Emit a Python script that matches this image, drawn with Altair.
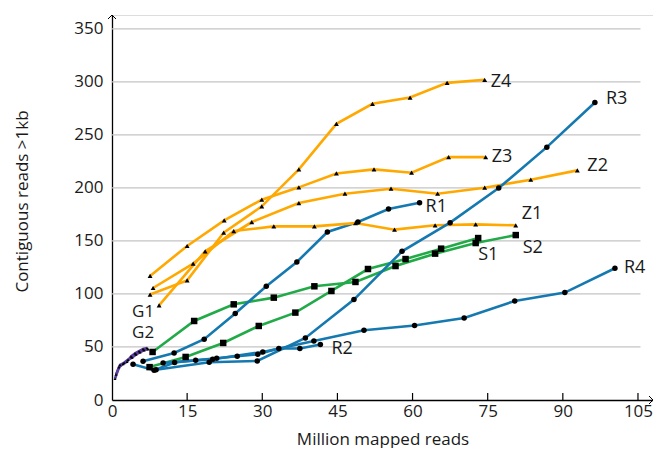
import altair as alt
import pandas as pd

# ---------------- data ----------------
z1_x = [8.2, 16.2, 24.3, 32.3, 40.4, 48.6, 56.4, 64.5, 72.6, 80.6]
z1_y = [105.6, 128.6, 159.3, 163.7, 163.7, 166.8, 160.6, 164.7, 165.6, 164.7]
z2_x = [9.4, 18.6, 27.9, 37.3, 46.5, 55.7, 65.0, 74.4, 83.6, 92.9]
z2_y = [89.3, 140.2, 167.8, 185.7, 194.5, 199.2, 194.5, 200.2, 207.7, 216.5]
z3_x = [7.6, 15.0, 22.4, 29.9, 37.3, 44.8, 52.3, 59.8, 67.2, 74.6]
z3_y = [117.0, 145.2, 169.4, 188.9, 200.5, 213.6, 217.4, 214.3, 229.0, 229.0]
z4_x = [7.6, 15.0, 22.3, 29.9, 37.3, 44.8, 52.0, 59.5, 66.9, 74.4]
z4_y = [99.4, 112.8, 157.8, 182.6, 217.4, 260.4, 279.3, 285.2, 299.0, 301.9]

r1_x = [6.2, 12.4, 18.4, 24.6, 30.8, 36.9, 43.0, 49.1, 55.2, 61.4]
r1_y = [36.5, 44.4, 57.3, 81.5, 107.2, 130.1, 158.4, 167.8, 180.0, 186.0]
r2_x = [4.2, 8.4, 12.5, 16.7, 20.9, 25.0, 29.1, 33.3, 37.5, 41.6]
r2_y = [33.6, 28.1, 35.3, 37.5, 39.4, 41.3, 43.1, 48.5, 48.5, 52.3]
r3_x = [8.8, 19.4, 29.0, 38.6, 48.3, 57.9, 67.5, 77.2, 86.8, 96.4]
r3_y = [28.5, 35.6, 36.8, 58.5, 94.7, 140.2, 167.2, 199.8, 238.4, 280.5]
r4_x = [10.2, 20.1, 30.1, 40.3, 50.3, 60.4, 70.3, 80.4, 90.4, 100.4]
r4_y = [35.0, 38.5, 45.3, 55.7, 65.7, 70.2, 77.3, 93.4, 101.3, 124.2]

s1_x = [7.5, 14.7, 22.2, 29.3, 36.6, 43.8, 51.1, 58.6, 65.7, 73.1]
s1_y = [31.0, 40.6, 53.8, 69.8, 82.4, 102.8, 123.5, 132.9, 142.7, 152.7]
s2_x = [8.1, 16.4, 24.3, 32.3, 40.4, 48.6, 56.6, 64.5, 72.6, 80.6]
s2_y = [45.3, 74.5, 90.2, 96.5, 107.2, 111.3, 126.3, 138.0, 148.0, 155.5]

g1_x = [0.6, 1.4, 2.2, 3.0, 3.8, 4.6, 5.4, 6.2, 7.0]
g1_y = [20.0, 31.0, 34.0, 36.0, 41.0, 44.0, 46.0, 48.0, 49.0]
g2_x = [0.8, 1.6, 2.4, 3.2, 4.0, 4.8, 5.6, 6.4, 7.2]
g2_y = [24.0, 33.0, 35.0, 38.0, 40.0, 43.0, 45.0, 47.0, 48.0]

x_ticks = [0, 15, 30, 45, 60, 75, 90, 105]
y_ticks = [0, 50, 100, 150, 200, 250, 300, 350]

series = [
    ("S1", s1_x, s1_y, "S"), ("S2", s2_x, s2_y, "S"),
    ("R1", r1_x, r1_y, "R"), ("R2", r2_x, r2_y, "R"),
    ("R4", r4_x, r4_y, "R"),
    ("Z1", z1_x, z1_y, "Z"), ("Z2", z2_x, z2_y, "Z"),
    ("Z3", z3_x, z3_y, "Z"), ("Z4", z4_x, z4_y, "Z"),
    ("R3", r3_x, r3_y, "R"),
    ("G1", g1_x, g1_y, "G"), ("G2", g2_x, g2_y, "G"),
]
group_colors = {"Z": "#FFA800", "R": "#1579B0", "S": "#22AA48", "G": "#5A3FA0"}

rows = []
for name, xs, ys, grp in series:
    for i, (xv, yv) in enumerate(zip(xs, ys)):
        rows.append({"series": name, "group": grp, "idx": i, "x": xv, "y": yv})
df = pd.DataFrame(rows)

# label placement (pixel offsets from each series' last point, font size)
label_style = {
    "Z4": (6, 2, "left", 18), "R3": (11, -4, "left", 18), "Z3": (6, 0, "left", 18),
    "Z2": (10, -4, "left", 18), "R1": (6, 4, "left", 18), "Z1": (6, -11, "left", 18),
    "S1": (0, 17, "left", 18), "S2": (7, 13, "left", 18), "R4": (9, 0, "left", 18),
    "R2": (11, 4, "left", 18), "G1": (-4, -36, "center", 17), "G2": (-5, -16, "center", 17),
}

FONT = "Open Sans"
XMAX, YMAX = 108, 363
xs_scale = alt.Scale(domain=[0, XMAX], nice=False, zero=True)
ys_scale = alt.Scale(domain=[0, YMAX], nice=False, zero=True)

x_axis = alt.Axis(values=x_ticks, title="Million mapped reads", grid=False, ticks=False,
                  domainColor="black", domainWidth=1.3, labelFont=FONT, labelFontSize=17,
                  labelColor="#1a1a1a", labelPadding=3, labelFlush=False,
                  titleFont=FONT, titleFontSize=17, titleFontWeight="normal",
                  titleColor="#1a1a1a", titleY=44, titleBaseline="alphabetic")
y_axis = alt.Axis(values=y_ticks, title="Contiguous reads >1kb", grid=False, ticks=False,
                  domainColor="black", domainWidth=1.3, labelFont=FONT, labelFontSize=17,
                  labelColor="#1a1a1a", labelPadding=9, labelFlush=False,
                  titleFont=FONT, titleFontSize=17, titleFontWeight="normal",
                  titleColor="#1a1a1a", titleX=-90, titleY=186, titleBaseline="middle")


def X(field):
    return alt.X(field, type="quantitative", scale=xs_scale, axis=x_axis)


def Y(field):
    return alt.Y(field, type="quantitative", scale=ys_scale, axis=y_axis)


grid_df = pd.DataFrame({"gy": y_ticks[1:], "gx0": 0, "gx1": 105.5})
grid = alt.Chart(grid_df).mark_rule(color="#c4c4c4", strokeWidth=1.2).encode(
    x=X("gx0"), x2="gx1", y=Y("gy"))

tick_df = pd.DataFrame({"tx": x_ticks[1:]})
ticks = alt.Chart(tick_df).mark_rule(color="black", strokeWidth=1.2).encode(
    x=X("tx"), y=alt.value(385), y2=alt.value(378))

color_scale = alt.Scale(domain=[s[0] for s in series],
                        range=[group_colors[s[3]] for s in series])

lines = alt.Chart(df).mark_line(strokeWidth=2.6).encode(
    x=X("x"), y=Y("y"),
    color=alt.Color("series:N", scale=color_scale, legend=None),
    order="idx:Q")

pts_z = alt.Chart(df).transform_filter(alt.datum.group == "Z").mark_point(
    shape="triangle-up", filled=True, color="black", size=24, opacity=1).encode(x=X("x"), y=Y("y"))
pts_r = alt.Chart(df).transform_filter(alt.datum.group == "R").mark_point(
    shape="circle", filled=True, color="black", size=30, opacity=1).encode(x=X("x"), y=Y("y"))
pts_s = alt.Chart(df).transform_filter(alt.datum.group == "S").mark_point(
    shape="square", filled=True, color="black", size=42, opacity=1).encode(x=X("x"), y=Y("y"))
pts_g = alt.Chart(df).transform_filter(alt.datum.group == "G").mark_point(
    shape="triangle-up", filled=True, color="black", size=9, opacity=1).encode(x=X("x"), y=Y("y"))

arrow_df = pd.DataFrame({"ax": [XMAX], "ay": [0]})
arrow_x = alt.Chart(arrow_df).mark_point(
    shape="M-1,-1L0,0L-1,1", filled=False, color="black", strokeWidth=1, size=64, opacity=1
).encode(x=X("ax"), y=Y("ay"))
arrow_df2 = pd.DataFrame({"ax": [0], "ay": [YMAX]})
arrow_y = alt.Chart(arrow_df2).mark_point(
    shape="M-1,1L0,0L1,1", filled=False, color="black", strokeWidth=1, size=64, opacity=1
).encode(x=X("ax"), y=Y("ay"))

label_layers = []
last = df.sort_values("idx").groupby("series").tail(1)
for name, (dx, dy, align, fs) in label_style.items():
    sub = last[last["series"] == name]
    label_layers.append(
        alt.Chart(sub).mark_text(font=FONT, fontSize=fs, color="#1a1a1a", dx=dx, dy=dy,
                                 align=align, baseline="middle").encode(
            x=X("x"), y=Y("y"), text="series:N"))

chart = alt.layer(grid, ticks, lines, pts_s, pts_r, pts_z, pts_g, arrow_x, arrow_y,
                  *label_layers).properties(
    width=541, height=385,
    autosize=alt.AutoSizeParams(type="none"),
    padding={"left": 104, "top": 7, "right": 0, "bottom": 48},
).configure_view(stroke=None).configure(background="white")

chart.save("out.html", embed_options={"renderer": "svg", "actions": False})
